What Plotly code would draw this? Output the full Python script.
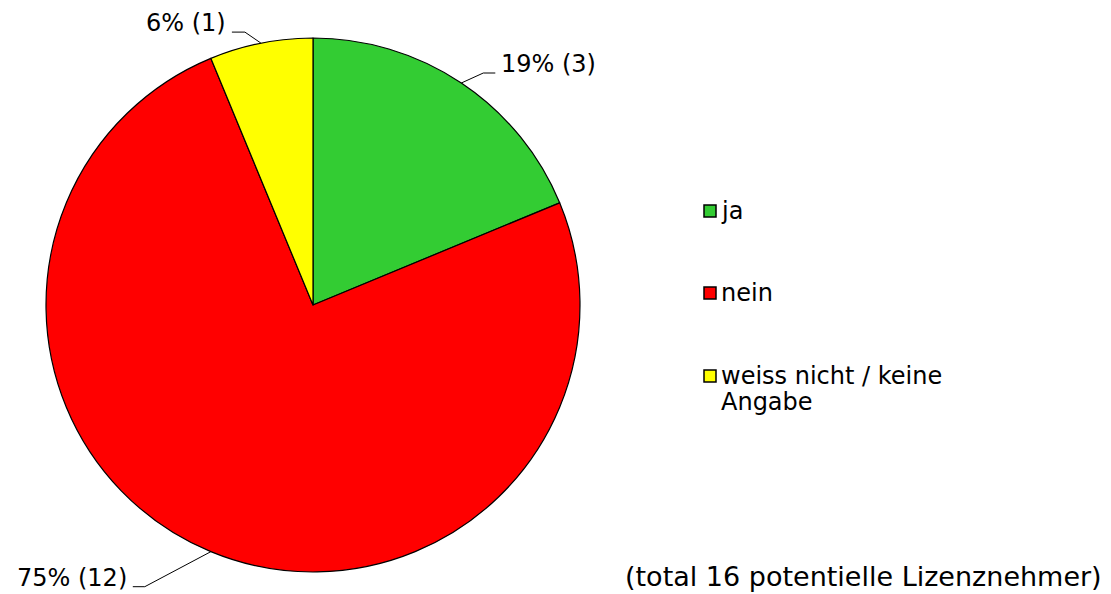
import math
import plotly.graph_objects as go

labels = ["ja", "nein", "weiss nicht / keine<br>Angabe"]
counts = [3, 12, 1]
colors = ["#33CC33", "#FF0000", "#FFFF00"]
total_note = "(total 16 potentielle Lizenznehmer)"

W, H = 1111, 594
cx, cy, R = 313, 305, 267
FONT = "DejaVu Sans"

fig = go.Figure()
fig.add_trace(go.Pie(
    labels=labels, values=counts, sort=False, direction="clockwise",
    rotation=0, textinfo="none", showlegend=False, hoverinfo="skip",
    marker=dict(colors=colors, line=dict(color="black", width=1.2)),
    domain=dict(x=[(cx - R) / W, (cx + R) / W],
                y=[(H - cy - R) / H, (H - cy + R) / H]),
))

# outside labels with leader lines, starting at each slice's mid-angle
tot = sum(counts)
leaders = [  # elbow dx, dy from the rim, horizontal stub, text side
    (22, -10, 12, "left"),
    (-66, 35, -12, "right"),
    (-16, -11, -13, "right"),
]
start = 0.0
for c, (dx, dy, stub, side) in zip(counts, leaders):
    frac = c / tot
    mid = (start + frac / 2) * 2 * math.pi
    start += frac
    ex, ey = cx + R * math.sin(mid), cy - R * math.cos(mid)
    bx, by = ex + dx, ey + dy
    tx = bx + stub
    fig.add_shape(type="path", xref="x", yref="y",
                  path=f"M {ex:.1f} {ey:.1f} L {bx:.1f} {by:.1f} L {tx:.1f} {by:.1f}",
                  line=dict(color="black", width=1))
    fig.add_annotation(x=tx + (4 if side == "left" else -4), y=by - 9,
                       xref="x", yref="y", text=f"{round(frac * 100)}% ({c})",
                       showarrow=False, xanchor=side, yanchor="middle",
                       font=dict(family=FONT, size=24, color="black"))

# legend drawn by hand so the rows can sit far apart
rows_y = [211, 293, 376]
for lab, col, ry in zip(labels, colors, rows_y):
    fig.add_shape(type="rect", xref="x", yref="y",
                  x0=704, x1=716, y0=ry - 6, y1=ry + 6,
                  fillcolor=col, line=dict(color="black", width=1.5))
    for k, line in enumerate(lab.split("<br>")):
        fig.add_annotation(x=719, y=ry + 26 * k, xref="x", yref="y",
                           text=line, showarrow=False,
                           xanchor="left", yanchor="middle",
                           font=dict(family=FONT, size=24, color="black"))

fig.add_annotation(x=1104, y=576, xref="x", yref="y", text=total_note,
                   showarrow=False, xanchor="right", yanchor="middle",
                   font=dict(family=FONT, size=27, color="black"))

fig.update_layout(
    width=W, height=H, margin=dict(l=0, r=0, t=0, b=0),
    paper_bgcolor="white", plot_bgcolor="white", showlegend=False,
    xaxis=dict(range=[0, W], visible=False, fixedrange=True),
    yaxis=dict(range=[H, 0], visible=False, fixedrange=True),
    font=dict(family=FONT, size=24, color="black"),
)

fig.write_html("out.html", config={"displayModeBar": False},
               post_script="document.body.style.margin='0';")
